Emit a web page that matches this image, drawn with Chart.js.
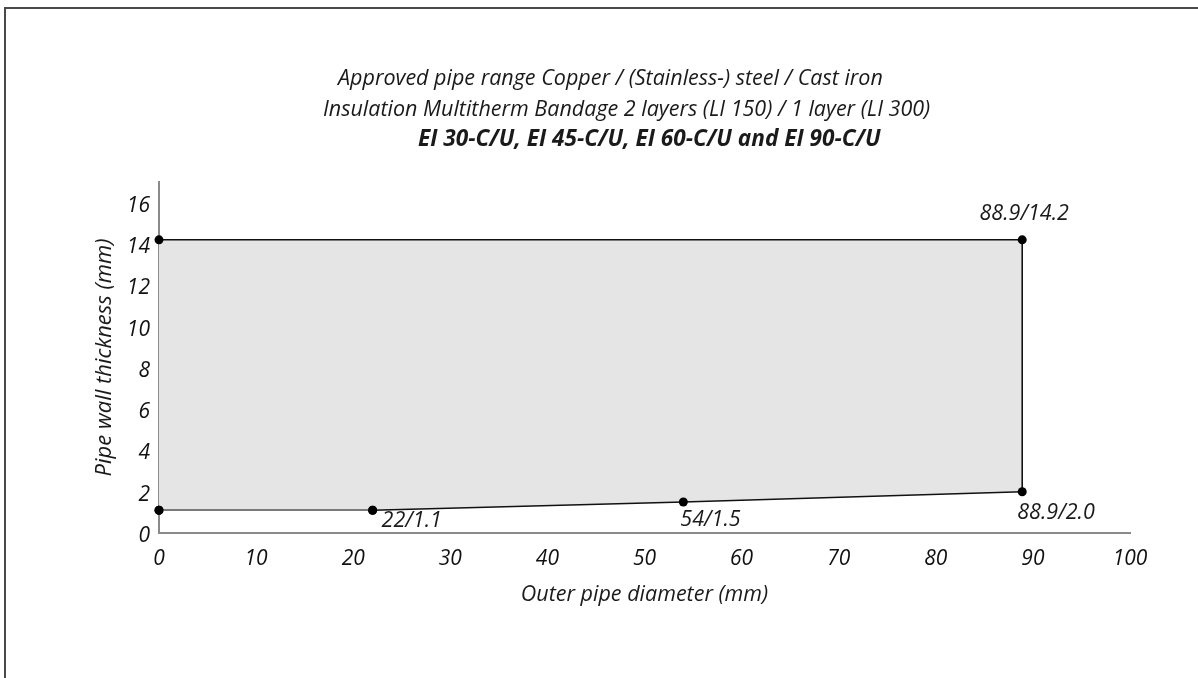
<!DOCTYPE html>
<html><head><meta charset="utf-8">
<script src="https://cdn.jsdelivr.net/npm/chart.js@4.4.0/dist/chart.umd.min.js"></script>
<style>
html,body{margin:0;padding:0;background:#fff;}
#wrap{position:relative;width:1198px;height:678px;overflow:hidden;}
#frame{position:absolute;left:4px;top:7px;right:-4px;bottom:-4px;border-top:2px solid #4a4a4a;border-left:2px solid #4a4a4a;pointer-events:none;}
canvas{position:absolute;left:0;top:0;}
</style></head><body>
<div id="wrap"><canvas id="c" width="1198" height="678"></canvas><div id="frame"></div></div>
<script>
// ---- data ----
const titleLines = [
  'Approved pipe range Copper / (Stainless-) steel / Cast iron',
  'Insulation Multitherm Bandage 2 layers (LI 150) / 1 layer (LI 300)',
  'EI 30-C/U, EI 45-C/U, EI 60-C/U and EI 90-C/U'
];
const xAxisTitle = 'Outer pipe diameter (mm)';
const yAxisTitle = 'Pipe wall thickness (mm)';
// lower boundary of the approved range (min wall thickness)
const lowerX = [0, 22, 54, 88.9];
const lowerY = [1.1, 1.1, 1.5, 2.0];
const lowerLabels = ['', '22/1.1', '54/1.5', '88.9/2.0'];
// upper boundary (max wall thickness)
const upperX = [0, 88.9];
const upperY = [14.2, 14.2];
const upperLabels = ['', '88.9/14.2'];

// ---- styles ----
const FONT = "'Open Sans', 'Noto Sans', sans-serif";
const titleStyle = [
  {x: 338, y: 79, weight: 'normal', size: 21.5},
  {x: 323, y: 110, weight: 'normal', size: 21.5},
  {x: 418, y: 140, weight: 'bold', size: 22.6}
];
const lowerOffsets = [null, [9, 11, 'left'], [-3, 18, 'left'], [-5, 21, 'left']];
const upperOffsets = [null, [2, -26, 'center']];

const toPts = (xs, ys) => xs.map((x, i) => ({x, y: ys[i]}));
const lowerPts = toPts(lowerX, lowerY);
const upperPts = toPts(upperX, upperY);
const edgePts = [lowerPts[lowerPts.length - 1], upperPts[upperPts.length - 1]];

const textPlugin = {
  id: 'texts',
  afterDraw(chart) {
    const ctx = chart.ctx;
    ctx.save();
    ctx.fillStyle = '#1a1a1a';
    ctx.textBaseline = 'middle';
    ctx.textAlign = 'left';
    titleLines.forEach((t, i) => {
      const s = titleStyle[i];
      ctx.font = `italic ${s.weight} ${s.size}px ${FONT}`;
      ctx.fillText(t, s.x, s.y);
    });
    const xs = chart.scales.x, ys = chart.scales.y;
    ctx.font = `italic 21.5px ${FONT}`;
    const put = (labels, offs, X, Y) => labels.forEach((t, i) => {
      if (!t) return;
      const o = offs[i];
      ctx.textAlign = o[2];
      ctx.fillText(t, xs.getPixelForValue(X[i]) + o[0], ys.getPixelForValue(Y[i]) + o[1]);
    });
    put(lowerLabels, lowerOffsets, lowerX, lowerY);
    put(upperLabels, upperOffsets, upperX, upperY);
    ctx.restore();
  }
};

const common = {
  showLine: true,
  borderColor: '#111',
  borderWidth: 1.6,
  pointRadius: 4.5,
  pointBackgroundColor: '#000',
  pointBorderColor: '#000',
  pointBorderWidth: 0,
  clip: false,
  tension: 0
};

new Chart(document.getElementById('c'), {
  type: 'scatter',
  data: {
    datasets: [
      Object.assign({}, common, {data: lowerPts, fill: false, order: 2}),
      Object.assign({}, common, {data: upperPts, fill: '-1', backgroundColor: '#e5e5e5', order: 1}),
      Object.assign({}, common, {data: edgePts, fill: false, pointRadius: 0, order: 3}),
      // first stretch of the lower boundary is drawn in grey in the original
      Object.assign({}, common, {data: lowerPts.slice(0, 2), fill: false, borderColor: '#7a7a7a', order: 0})
    ]
  },
  options: {
    responsive: false,
    animation: false,
    devicePixelRatio: 1,
    layout: {padding: {left: 0, top: 182, right: 68, bottom: 0}},
    plugins: {legend: {display: false}, tooltip: {enabled: false}, title: {display: false}, filler: {drawTime: 'beforeDatasetsDraw'}},
    scales: {
      x: {
        type: 'linear', min: 0, max: 100,
        grid: {display: false, drawTicks: false},
        border: {display: true, color: '#8a8a8a', width: 2},
        ticks: {stepSize: 10, color: '#111', padding: 13, font: {family: FONT, size: 21, style: 'italic'}},
        title: {display: true, text: xAxisTitle, color: '#1a1a1a', padding: {top: 0, bottom: 70}, font: {family: FONT, size: 21.5, style: 'italic'}},
        afterFit: s => { s.height = 145; }
      },
      y: {
        type: 'linear', min: 0, max: 17,
        grid: {display: false, drawTicks: false},
        border: {display: true, color: '#8a8a8a', width: 2},
        ticks: {stepSize: 2, includeBounds: false, labelOffset: 3, color: '#111', padding: 9, font: {family: FONT, size: 21, style: 'italic'}},
        title: {display: true, text: yAxisTitle, color: '#1a1a1a', padding: {top: 92, bottom: 0}, font: {family: FONT, size: 22, style: 'italic'}},
        afterFit: s => { s.width = 159; }
      }
    }
  },
  plugins: [textPlugin]
});
</script>
</body></html>
